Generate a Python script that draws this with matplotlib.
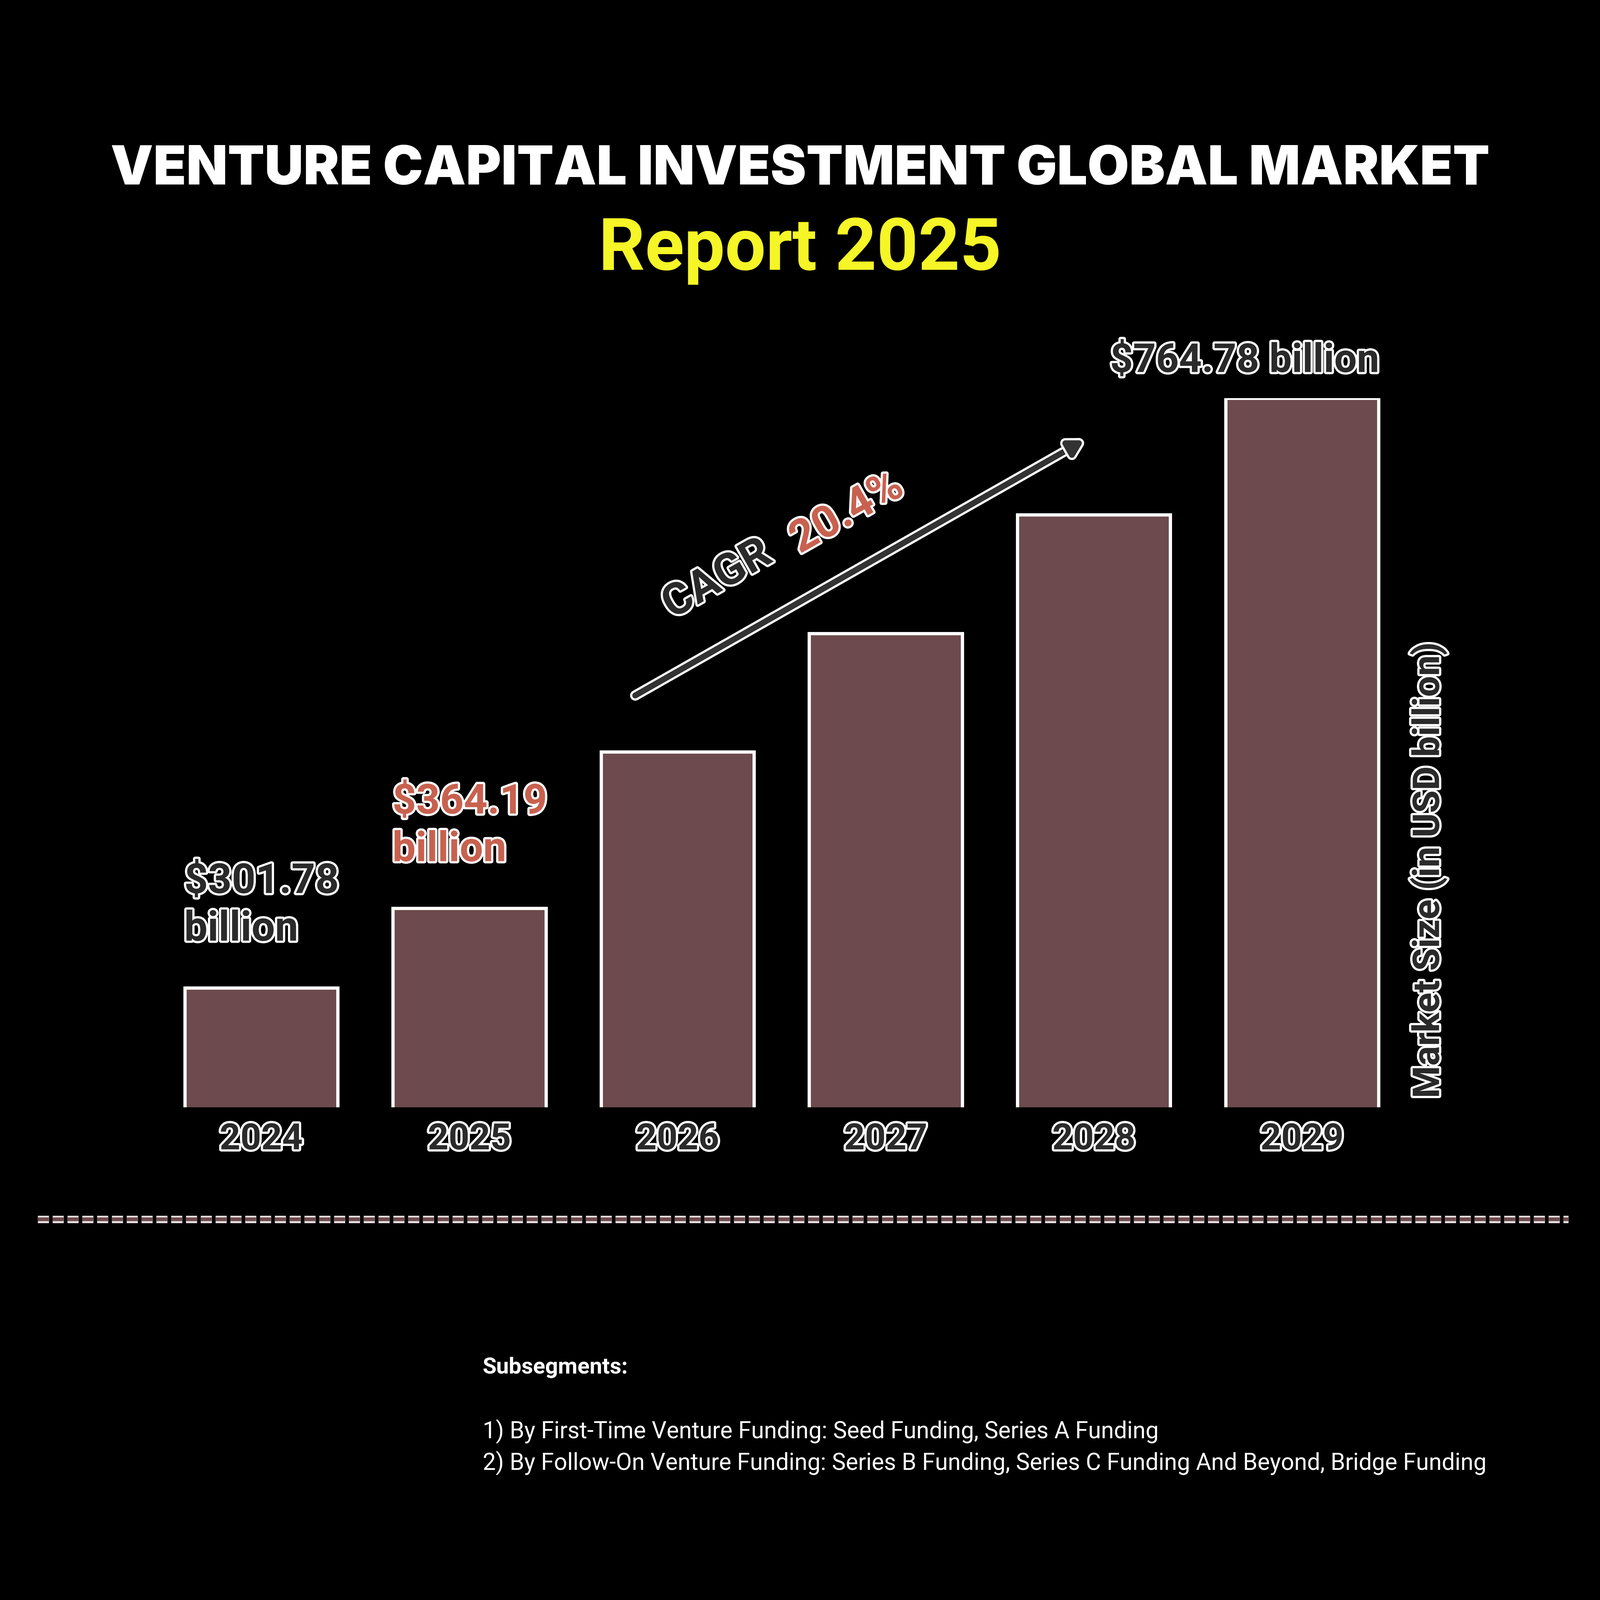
import numpy as np
import matplotlib.pyplot as plt
import matplotlib.patheffects as pe

years = ["2024", "2025", "2026", "2027", "2028", "2029"]
values = [301.78, 364.19, 487.0, 580.0, 673.0, 764.78]
labels = {0: ("$301.78\nbillion", "#2a2a2a"),
          1: ("$364.19\nbillion", "#c8614f"),
          5: ("$764.78 billion", "#2a2a2a")}

S = 1568.0  # reference layout scale
fig = plt.figure(figsize=(4501 / 300, 4501 / 300), dpi=300, facecolor="black")

def fx(x):
    return x / S

def fy(y):
    return 1 - y / S

outline = [pe.withStroke(linewidth=3, foreground="white")]

fig.text(0.5, fy(167), "VENTURE CAPITAL INVESTMENT GLOBAL MARKET", ha="center", va="center",
         color="white", fontsize=36.3, fontweight="black", family="Inter")
fig.text(0.5, fy(245), "Report 2025", ha="center", va="center",
         color="#f5f527", fontsize=49, fontweight="bold", family="Roboto")

ax = fig.add_axes([fx(154), fy(1085), fx(1224), (1085 - 390) / S])
ax.set_facecolor("black")
x = np.arange(len(years))
ax.bar(x, values, width=0.735, color="#6d4a4d", edgecolor="white", linewidth=2.2)
ax.set_xlim(-0.5, len(years) - 0.5)
ax.set_ylim(208, values[-1])
for s in ax.spines.values():
    s.set_visible(False)
ax.set_yticks([])
ax.set_xticks(x)
ax.set_xticklabels(years)
ax.tick_params(axis="x", length=0, pad=10)
for t in ax.get_xticklabels():
    t.set_fontsize(24.5)
    t.set_fontweight("bold")
    t.set_family("Roboto")
    t.set_color("#2a2a2a")
    t.set_path_effects(outline)

for i, (txt, col) in labels.items():
    if i == 5:
        ax.annotate(txt, xy=(x[i] + 0.37, values[i]), xytext=(0, 12), textcoords="offset points",
                    ha="right", va="bottom", fontsize=27, fontweight="bold", family="Roboto",
                    color=col, path_effects=outline, annotation_clip=False)
    else:
        ax.annotate(txt, xy=(x[i] - 0.37, values[i]), xytext=(0, 26), textcoords="offset points",
                    ha="left", va="bottom", fontsize=28, fontweight="bold", family="Roboto",
                    color=col, linespacing=1.25, path_effects=outline, annotation_clip=False)

fig.text(fx(1400), fy(853), "Market Size (in USD billion)", rotation=90, ha="center", va="center",
         fontsize=25, fontweight="bold", family="Roboto", color="#2a2a2a", path_effects=outline)

# CAGR arrow
ax.annotate("", xy=(fx(1065), fy(430)), xycoords="figure fraction",
            xytext=(fx(620), fy(683)), textcoords="figure fraction",
            arrowprops=dict(arrowstyle="-|>,head_length=0.8,head_width=0.45", color="#333333",
                            lw=4, path_effects=[pe.withStroke(linewidth=7, foreground="white")]))
fig.text(fx(703), fy(568), "CAGR", rotation=29.6, ha="center", va="center", fontsize=30,
         fontweight="bold", family="Roboto", color="#2a2a2a", path_effects=outline)
fig.text(fx(830), fy(503), "20.4%", rotation=29.6, ha="center", va="center", fontsize=30,
         fontweight="bold", family="Roboto", color="#c8614f", path_effects=outline)

# dashed divider
fig.add_artist(plt.Line2D([fx(37), fx(1537)], [fy(1195), fy(1195)], color="#6d4a4d", lw=2.5,
                          linestyle=(0, (3, 1)),
                          path_effects=[pe.withStroke(linewidth=5, foreground="#e8e0e0")]))

fig.text(fx(473), fy(1340), "Subsegments:", ha="left", va="center", fontsize=15.2,
         fontweight="bold", family="Roboto", color="white")
fig.text(fx(473), fy(1403), "1) By First-Time Venture Funding: Seed Funding, Series A Funding",
         ha="left", va="center", fontsize=15.75, family="Roboto", color="white")
fig.text(fx(473), fy(1434),
         "2) By Follow-On Venture Funding: Series B Funding, Series C Funding And Beyond, Bridge Funding",
         ha="left", va="center", fontsize=15.75, family="Roboto", color="white")

fig.savefig("out.png", dpi=300, facecolor="black")
